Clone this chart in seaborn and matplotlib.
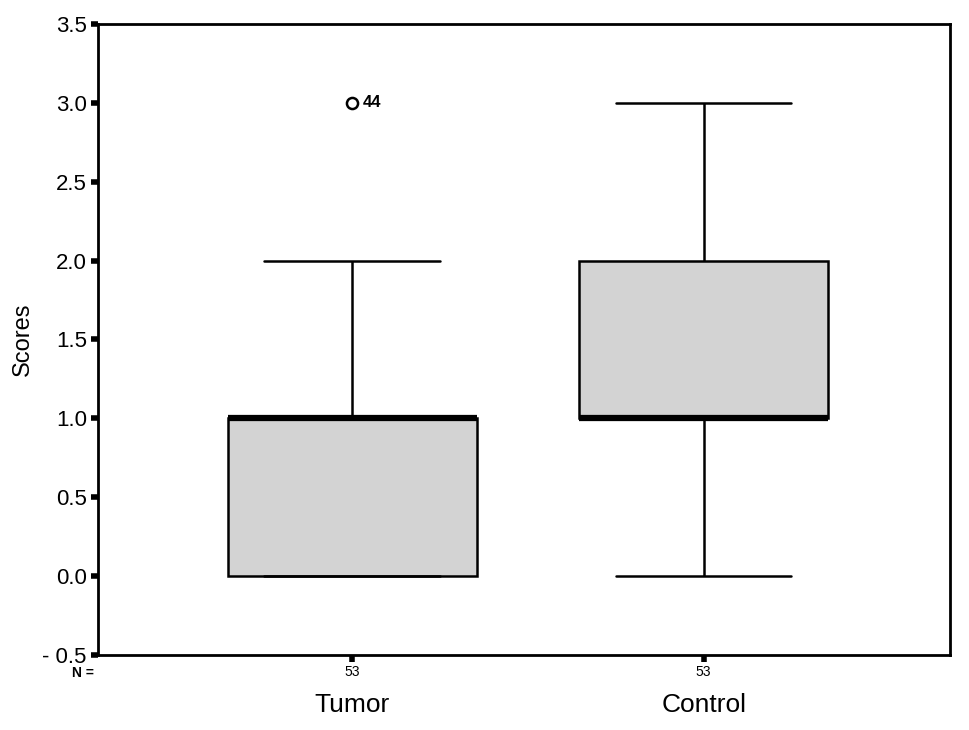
import numpy as np
import pandas as pd
import seaborn as sns
import matplotlib.pyplot as plt
from matplotlib.transforms import blended_transform_factory

# score levels and how many cases sit at each level (N = 53 per group)
score_levels = [0, 1, 2, 3]
tumor_counts = [15, 30, 7, 1]
control_counts = [5, 25, 18, 5]
groups = ["Tumor", "Control"]
n_labels = ["53", "53"]
outlier_case = "44"

df = pd.DataFrame({
    "group": ["Tumor"] * sum(tumor_counts) + ["Control"] * sum(control_counts),
    "score": np.concatenate([np.repeat(score_levels, tumor_counts),
                             np.repeat(score_levels, control_counts)]),
})

sns.set_style("white")
plt.rcParams['font.family'] = ['Liberation Sans', 'DejaVu Sans']

fig = plt.figure(figsize=(9.69, 7.30), dpi=100)
ax = fig.add_axes([0.101, 0.103, 0.879, 0.864])

sns.boxplot(data=df, x="group", y="score", order=groups, ax=ax,
            width=0.71, color="#d3d3d3", saturation=1, whis=1.5,
            linecolor="black", linewidth=1.8,
            boxprops=dict(facecolor="#d3d3d3", edgecolor="black"),
            medianprops=dict(color="black", linewidth=4.5),
            flierprops=dict(marker="o", markerfacecolor="none",
                            markeredgecolor="black", markersize=8,
                            markeredgewidth=1.8),
            capwidths=0.5)

# case label next to the outlier
out_val = df[df.group == "Tumor"].score.max()
ax.text(0.03, out_val, outlier_case, fontsize=12, fontweight="bold",
        va="center", ha="left", color="black")

ax.set_xlim(-0.724, 1.70)
ax.set_ylim(-0.5, 3.5)
ticks = np.arange(-0.5, 3.51, 0.5)
ax.set_yticks(ticks)
ax.set_yticklabels([f"{v:.1f}".replace("-", "- ") for v in ticks], fontsize=16)
ax.set_xticks(range(len(groups)))
ax.set_xticklabels(n_labels, fontsize=10)
ax.tick_params(axis="both", direction="out", length=5, width=4, color="black",
               labelcolor="black", left=True, bottom=True)
ax.tick_params(axis="y", pad=3)
ax.tick_params(axis="x", pad=2)

for s in ax.spines.values():
    s.set_color("black")
    s.set_linewidth(2)

ax.set_xlabel("")
ax.set_ylabel("Scores", fontsize=17, labelpad=6, color="black")

trans = blended_transform_factory(ax.transData, ax.transAxes)
for i, g in enumerate(groups):
    ax.text(i, -0.06, g, transform=trans, fontsize=19, ha="center", va="top",
            color="black")
ax.text(-0.004, -0.018, "N =", transform=ax.transAxes, fontsize=10,
        ha="right", va="top", fontweight="bold", color="black")

fig.savefig("out.png", dpi=100)
